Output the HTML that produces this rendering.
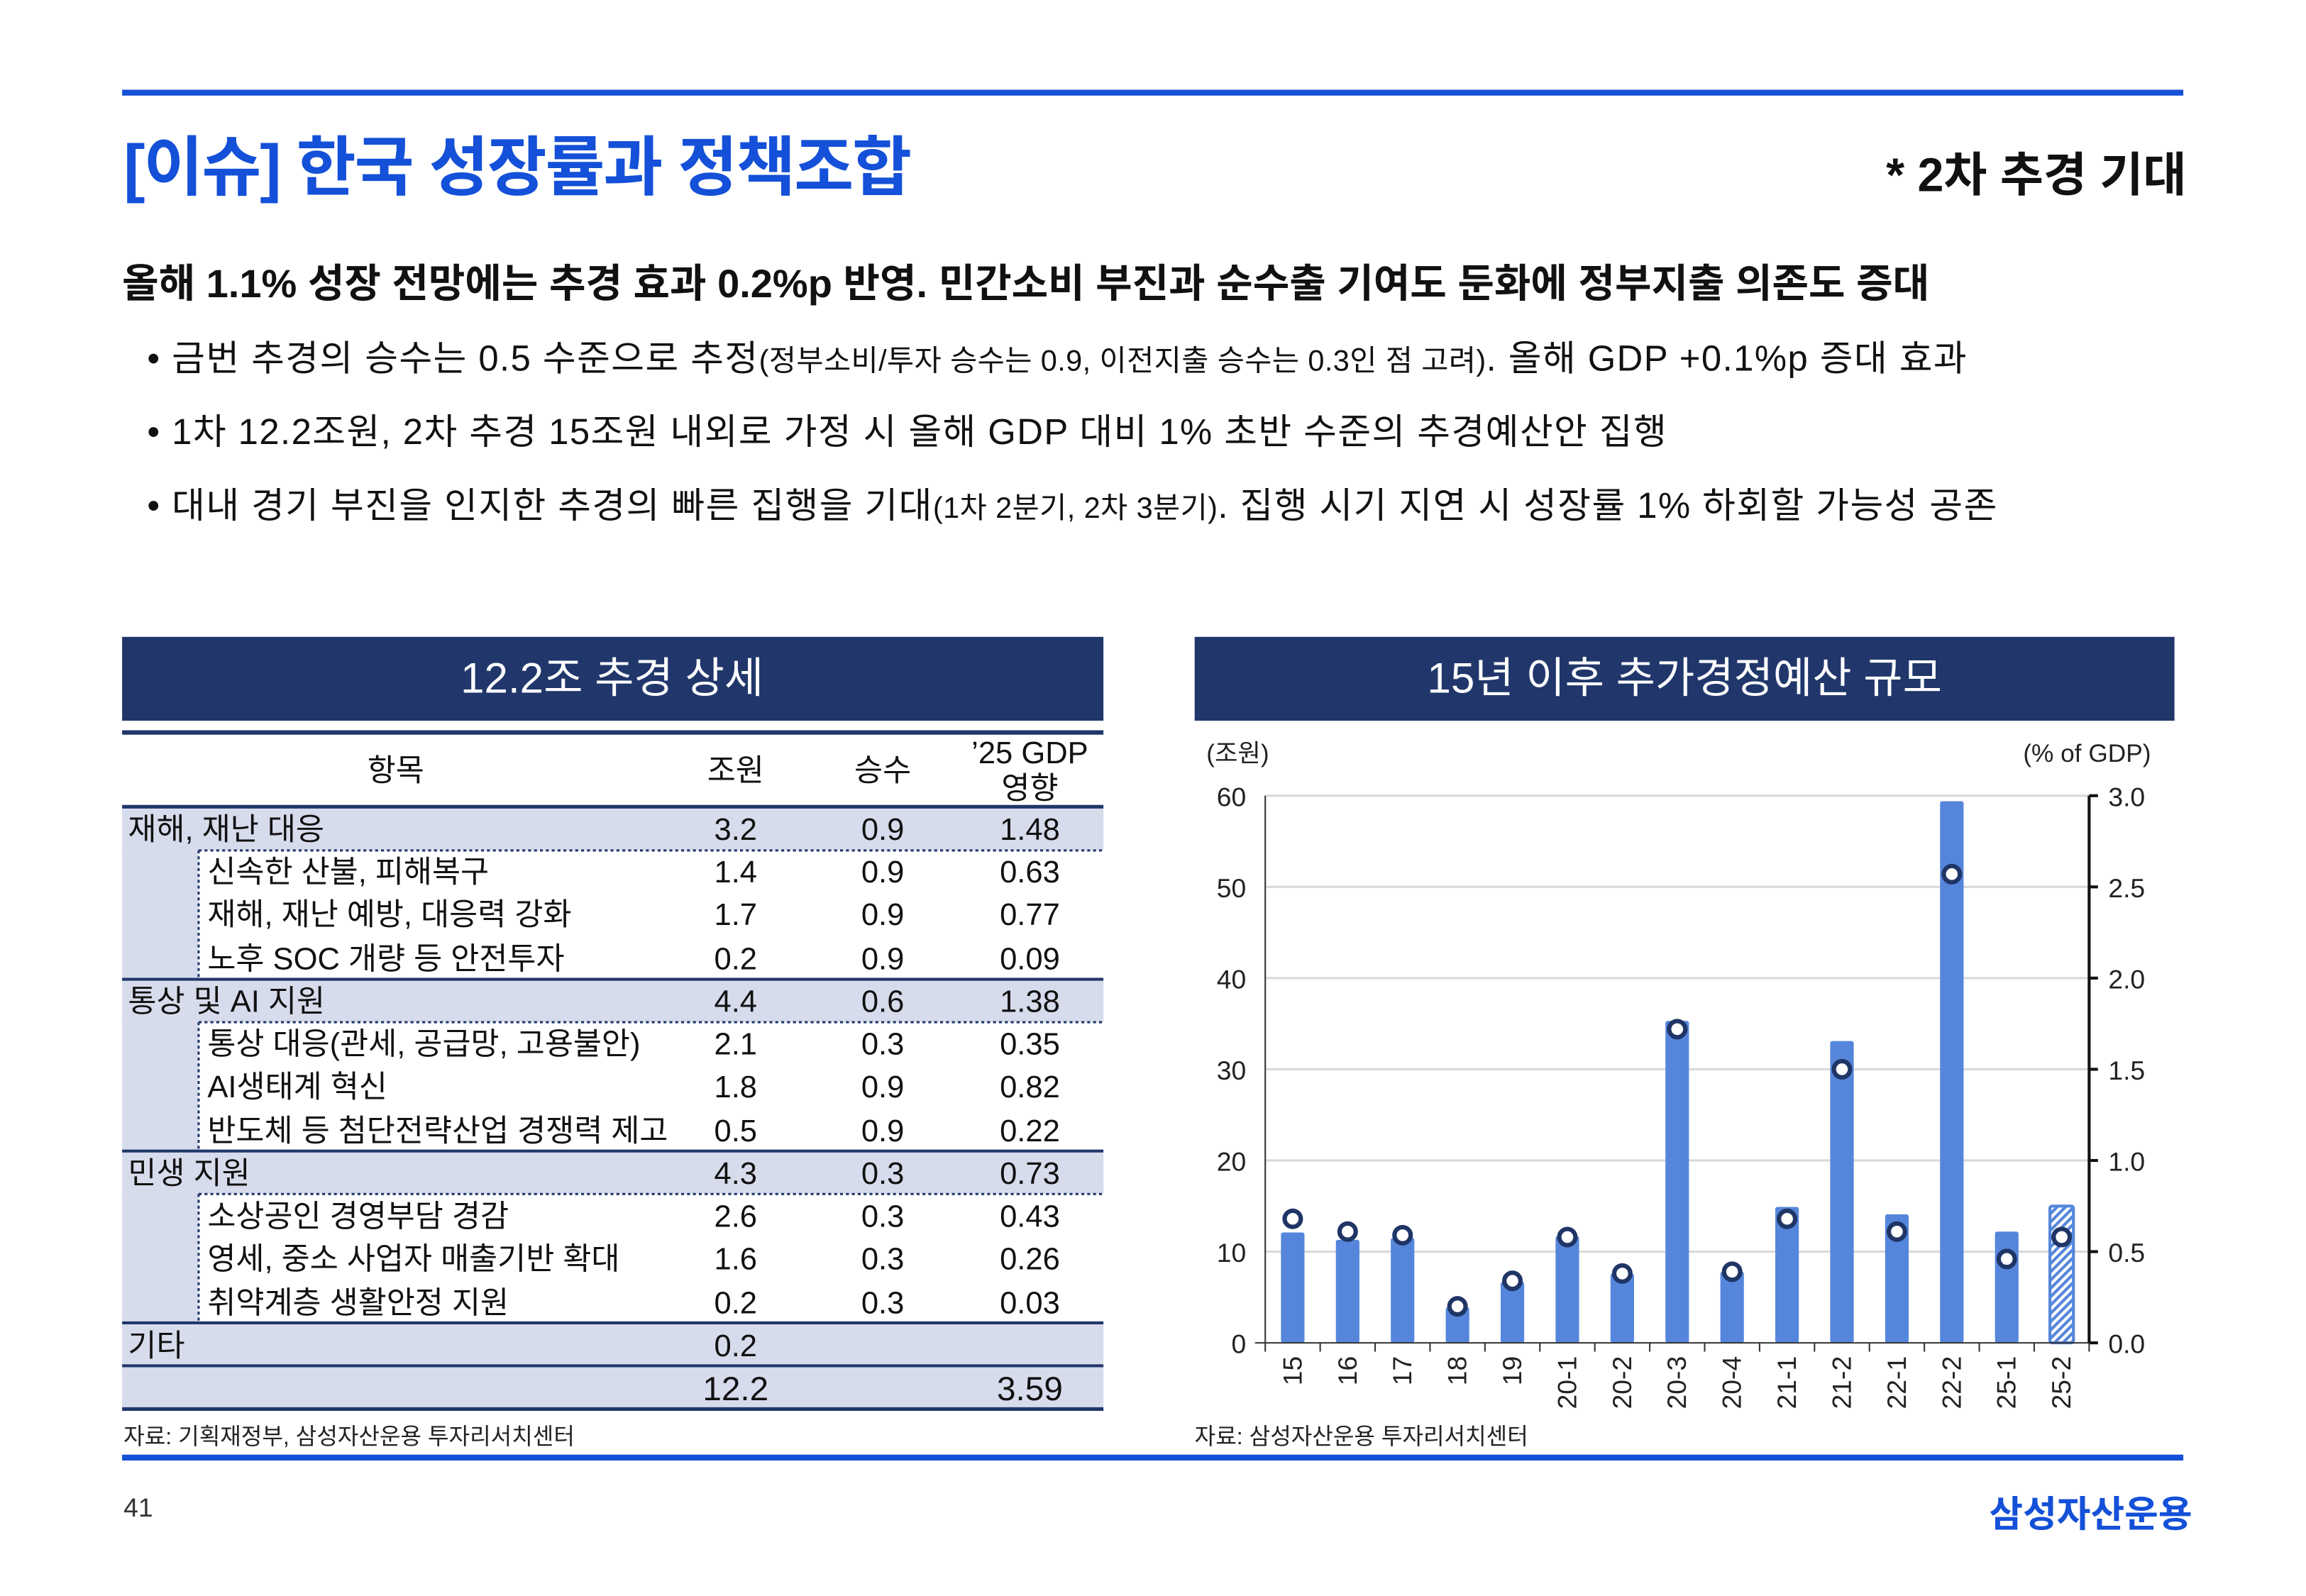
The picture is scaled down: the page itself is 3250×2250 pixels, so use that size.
<!DOCTYPE html>
<html><head><meta charset="utf-8">
<style>
html,body{margin:0;padding:0;background:#fff;}
#wrap{width:1567px;height:1085px;position:relative;transform:scale(2.0735);transform-origin:0 0;font-family:"Liberation Sans","Noto Sans CJK KR",sans-serif;overflow:hidden;}
.a{position:absolute;white-space:nowrap;}
</style></head><body>
<div id="wrap">
<div class="a" style="left:83px;top:61px;width:1401px;height:4px;background:#1450d8"></div>
<div class="a" style="left:84px;top:78px;font-size:44px;font-weight:bold;color:#1450d8;letter-spacing:-1px">[이슈] 한국 성장률과 정책조합</div>
<div class="a" style="left:1282px;top:94px;font-size:32px;font-weight:bold;color:#111">* 2차 추경 기대</div>
<div class="a" style="left:83px;top:171px;font-size:27px;font-weight:bold;color:#111;letter-spacing:0px">올해 1.1% 성장 전망에는 추경 효과 0.2%p 반영. 민간소비 부진과 순수출 기여도 둔화에 정부지출 의존도 증대</div>
<div class="a" style="left:100px;top:225px;font-size:24.5px;color:#111;letter-spacing:0.7px">• 금번 추경의 승수는 0.5 수준으로 추정<span style="font-size:20px;letter-spacing:0.2px">(정부소비/투자 승수는 0.9, 이전지출 승수는 0.3인 점 고려)</span>. 올해 GDP +0.1%p 증대 효과</div>
<div class="a" style="left:100px;top:275px;font-size:24.5px;color:#111;letter-spacing:0.7px">• 1차 12.2조원, 2차 추경 15조원 내외로 가정 시 올해 GDP 대비 1% 초반 수준의 추경예산안 집행</div>
<div class="a" style="left:100px;top:325px;font-size:24.5px;color:#111;letter-spacing:0.7px">• 대내 경기 부진을 인지한 추경의 빠른 집행을 기대<span style="font-size:20px;letter-spacing:0.2px">(1차 2분기, 2차 3분기)</span>. 집행 시기 지연 시 성장률 1% 하회할 가능성 공존</div>

<svg class="a" style="left:0;top:0" width="1567" height="1085" font-family="Liberation Sans, Noto Sans CJK KR, sans-serif">
<rect x="83" y="433" width="667" height="57" fill="#21376b"/>
<text x="416" y="471" font-size="29" fill="#fff" text-anchor="middle">12.2조 추경 상세</text>
<g fill="#d7dcec">
<rect x="83" y="549" width="667" height="29.2"/>
<rect x="83" y="578.2" width="52" height="87.6"/>
<rect x="83" y="665.8" width="667" height="29.2"/>
<rect x="83" y="695" width="52" height="87.6"/>
<rect x="83" y="782.6" width="667" height="29.2"/>
<rect x="83" y="811.8" width="52" height="87.6"/>
<rect x="83" y="899.4" width="667" height="58.4"/>
</g>
<g stroke="#21376b" fill="none">
<line x1="83" y1="498" x2="750" y2="498" stroke-width="3"/>
<line x1="83" y1="548.5" x2="750" y2="548.5" stroke-width="2.5"/>
<line x1="83" y1="665.8" x2="750" y2="665.8" stroke-width="2"/>
<line x1="83" y1="782.6" x2="750" y2="782.6" stroke-width="2"/>
<line x1="83" y1="899.4" x2="750" y2="899.4" stroke-width="2"/>
<line x1="83" y1="928.6" x2="750" y2="928.6" stroke-width="2"/>
<line x1="83" y1="958" x2="750" y2="958" stroke-width="2.5"/>
<g stroke-dasharray="2,2" stroke-width="1.5">
<line x1="135" y1="578.2" x2="750" y2="578.2"/>
<line x1="135" y1="695" x2="750" y2="695"/>
<line x1="135" y1="811.8" x2="750" y2="811.8"/>
<line x1="135" y1="578.2" x2="135" y2="665.8"/>
<line x1="135" y1="695" x2="135" y2="782.6"/>
<line x1="135" y1="811.8" x2="135" y2="899.4"/>
</g>
</g>
<g font-size="21" fill="#111">
<text x="269" y="531" text-anchor="middle">항목</text>
<text x="500" y="531" text-anchor="middle">조원</text>
<text x="600" y="531" text-anchor="middle">승수</text>
<text x="700" y="519" text-anchor="middle">’25 GDP</text>
<text x="700" y="543" text-anchor="middle">영향</text>
</g>
<g font-size="21" fill="#111">
<g text-anchor="start">
<text x="87" y="571">재해, 재난 대응</text>
<text x="141" y="600">신속한 산불, 피해복구</text>
<text x="141" y="629">재해, 재난 예방, 대응력 강화</text>
<text x="141" y="659">노후 SOC 개량 등 안전투자</text>
<text x="87" y="688">통상 및 AI 지원</text>
<text x="141" y="717">통상 대응(관세, 공급망, 고용불안)</text>
<text x="141" y="746">AI생태계 혁신</text>
<text x="141" y="776">반도체 등 첨단전략산업 경쟁력 제고</text>
<text x="87" y="805">민생 지원</text>
<text x="141" y="834">소상공인 경영부담 경감</text>
<text x="141" y="863">영세, 중소 사업자 매출기반 확대</text>
<text x="141" y="893">취약계층 생활안정 지원</text>
<text x="87" y="922">기타</text>
</g>
<g text-anchor="middle">
<text x="500" y="571">3.2</text><text x="600" y="571">0.9</text><text x="700" y="571">1.48</text>
<text x="500" y="600">1.4</text><text x="600" y="600">0.9</text><text x="700" y="600">0.63</text>
<text x="500" y="629">1.7</text><text x="600" y="629">0.9</text><text x="700" y="629">0.77</text>
<text x="500" y="659">0.2</text><text x="600" y="659">0.9</text><text x="700" y="659">0.09</text>
<text x="500" y="688">4.4</text><text x="600" y="688">0.6</text><text x="700" y="688">1.38</text>
<text x="500" y="717">2.1</text><text x="600" y="717">0.3</text><text x="700" y="717">0.35</text>
<text x="500" y="746">1.8</text><text x="600" y="746">0.9</text><text x="700" y="746">0.82</text>
<text x="500" y="776">0.5</text><text x="600" y="776">0.9</text><text x="700" y="776">0.22</text>
<text x="500" y="805">4.3</text><text x="600" y="805">0.3</text><text x="700" y="805">0.73</text>
<text x="500" y="834">2.6</text><text x="600" y="834">0.3</text><text x="700" y="834">0.43</text>
<text x="500" y="863">1.6</text><text x="600" y="863">0.3</text><text x="700" y="863">0.26</text>
<text x="500" y="893">0.2</text><text x="600" y="893">0.3</text><text x="700" y="893">0.03</text>
<text x="500" y="922">0.2</text>
<text x="500" y="952" font-size="23">12.2</text><text x="700" y="952" font-size="23">3.59</text>
</g>
</g>
<text x="84" y="982" font-size="15.5" fill="#222">자료: 기획재정부, 삼성자산운용 투자리서치센터</text>

<defs><pattern id="h" width="4" height="4" patternUnits="userSpaceOnUse" patternTransform="rotate(45)"><rect width="4" height="4" fill="#fff"/><rect width="2" height="4" fill="#5586dc"/></pattern></defs>
<rect x="812" y="433" width="666" height="57" fill="#21376b"/>
<text x="1145" y="471" font-size="29" fill="#fff" text-anchor="middle">15년 이후 추가경정예산 규모</text>
<text x="820" y="518" font-size="17" fill="#222">(조원)</text>
<text x="1462" y="518" font-size="17" fill="#222" text-anchor="end">(% of GDP)</text>
<g stroke="#d9d9d9" stroke-width="1.5">
<line x1="860" y1="541" x2="1420" y2="541"/><line x1="860" y1="603" x2="1420" y2="603"/>
<line x1="860" y1="665" x2="1420" y2="665"/><line x1="860" y1="727" x2="1420" y2="727"/>
<line x1="860" y1="789" x2="1420" y2="789"/><line x1="860" y1="851" x2="1420" y2="851"/>
</g>
<g font-size="18" fill="#222" text-anchor="end">
<text x="847" y="548">60</text><text x="847" y="610">50</text><text x="847" y="672">40</text>
<text x="847" y="734">30</text><text x="847" y="796">20</text><text x="847" y="858">10</text><text x="847" y="920">0</text>
</g>
<g font-size="18" fill="#222">
<text x="1433" y="548">3.0</text><text x="1433" y="610">2.5</text><text x="1433" y="672">2.0</text>
<text x="1433" y="734">1.5</text><text x="1433" y="796">1.0</text><text x="1433" y="858">0.5</text><text x="1433" y="920">0.0</text>
</g>
<g id="bars" fill="#5586dc"></g>
<g stroke="#333" stroke-width="1">
<line x1="860" y1="541" x2="860" y2="913"/>
<line x1="853" y1="913" x2="1420" y2="913"/>
</g>
<line x1="1420" y1="541" x2="1420" y2="913" stroke="#111" stroke-width="2"/>
<g stroke="#111" stroke-width="2">
<line x1="1420" y1="541" x2="1426" y2="541"/><line x1="1420" y1="603" x2="1426" y2="603"/>
<line x1="1420" y1="665" x2="1426" y2="665"/><line x1="1420" y1="727" x2="1426" y2="727"/>
<line x1="1420" y1="789" x2="1426" y2="789"/><line x1="1420" y1="851" x2="1426" y2="851"/>
<line x1="1420" y1="913" x2="1426" y2="913"/>
</g>
<g id="rest"></g>
<text x="812" y="982" font-size="15.5" fill="#222">자료: 삼성자산운용 투자리서치센터</text>
</svg>

<div class="a" style="left:83px;top:989px;width:1401px;height:4px;background:#1450d8"></div>
<div class="a" style="left:84px;top:1015px;font-size:18px;color:#333">41</div>
<div class="a" style="left:1352px;top:1010px;font-size:25px;font-weight:bold;color:#1450d8">삼성자산운용</div>
</div>
<script>
(function(){
var cats=["15","16","17","18","19","20-1","20-2","20-3","20-4","21-1","21-2","22-1","22-2","25-1","25-2"];
var v=[12.1,11.3,11.5,3.9,6.7,11.7,7.6,35.3,7.8,14.9,33.1,14.1,59.4,12.2,15];
var g=[0.68,0.61,0.59,0.2,0.34,0.58,0.38,1.72,0.39,0.68,1.5,0.61,2.57,0.46,0.58];
var ns="http://www.w3.org/2000/svg";
var bars=document.getElementById("bars"),rest=document.getElementById("rest");
var step=(1420-860)/15;
function el(t,a,p){var e=document.createElementNS(ns,t);for(var k in a)e.setAttribute(k,a[k]);p.appendChild(e);return e;}
for(var i=0;i<15;i++){
 var cx=860+step*(i+0.5);
 var y=913-v[i]*6.2;
 el("rect",{x:cx-8,y:y,width:16,height:913-y,rx:1.5,fill:i==14?"url(#h)":"#5586dc",stroke:i==14?"#5586dc":"none","stroke-width":i==14?2:0},bars);
 el("line",{x1:860+step*(i+1),y1:913,x2:860+step*(i+1),y2:919,stroke:"#333","stroke-width":1},rest);
 var gy=913-g[i]*124;
 el("circle",{cx:cx,cy:gy,r:5.5,fill:"#fff",stroke:"#1f3566","stroke-width":3},rest);
 var t=el("text",{x:0,y:0,"font-size":"18",fill:"#222","text-anchor":"end",transform:"translate("+(cx+6)+",922) rotate(-90)"},rest);
 t.textContent=cats[i];
}
el("line",{x1:860,y1:913,x2:860,y2:919,stroke:"#333","stroke-width":1},rest);
})();
</script>
</body></html>
